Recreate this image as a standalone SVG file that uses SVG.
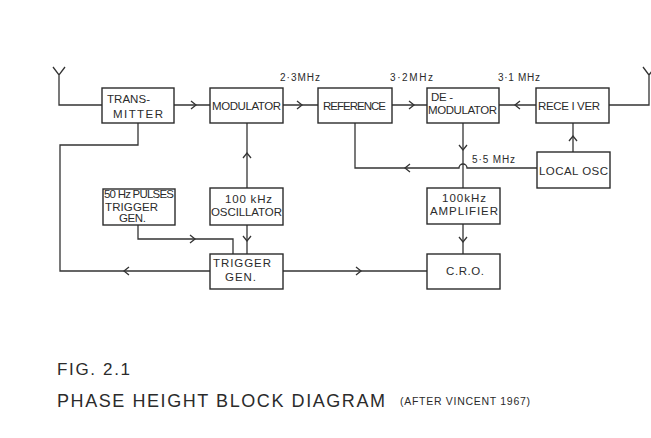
<svg xmlns="http://www.w3.org/2000/svg" xmlns:xlink="http://www.w3.org/1999/xlink" width="651" height="438" viewBox="0 0 651 438">
<style>
.box{fill:none;stroke:#2b2b2b;stroke-width:1.4}
.ln{fill:none;stroke:#333;stroke-width:1.3}
.t{font-family:"Liberation Sans",Arial,sans-serif;fill:#2b2b2b;font-size:11.5px}
.lbl{font-family:"Liberation Sans",Arial,sans-serif;fill:#2b2b2b;font-size:10px}
.cap{font-family:"Liberation Sans",Arial,sans-serif;fill:#2b2b2b}
</style>
<defs>
<path id="chev" d="M-3,-4 L2,0 L-3,4" fill="none" stroke="#333" stroke-width="1.3"/>
</defs>
<rect width="651" height="438" fill="#fff"/>

<g id="connectors">
<path class="ln" d="M53,67 L59,75 L65,67 M59,75 V105 H102"/>
<path class="ln" d="M174,105 H210"/><use xlink:href="#chev" transform="translate(194,105)"/>
<path class="ln" d="M283,105 H318"/><use xlink:href="#chev" transform="translate(300,105)"/>
<path class="ln" d="M392,105 H427"/><use xlink:href="#chev" transform="translate(412,105)"/>
<path class="ln" d="M536,105 H499"/><use xlink:href="#chev" transform="translate(517,105) rotate(180)"/>
<path class="ln" d="M609,105 H649 V75 L643,67 M649,75 L655,67"/>
<path class="ln" d="M573,152 V123"/><use xlink:href="#chev" transform="translate(573,138) rotate(-90)"/>
<path class="ln" d="M537,168 H467 A4,4 0 0 0 459,168 H355 V123"/><use xlink:href="#chev" transform="translate(407,168) rotate(180)"/>
<path class="ln" d="M463,123 V188"/><use xlink:href="#chev" transform="translate(463,148) rotate(90)"/>
<path class="ln" d="M463,224 V254"/><use xlink:href="#chev" transform="translate(463,240) rotate(90)"/>
<path class="ln" d="M283,271 H427"/><use xlink:href="#chev" transform="translate(359,271)"/>
<path class="ln" d="M210,271 H60 V145 H138 V123"/><use xlink:href="#chev" transform="translate(126,271) rotate(180)"/>
<path class="ln" d="M247,188 V123"/><use xlink:href="#chev" transform="translate(247,155) rotate(-90)"/>
<path class="ln" d="M247,225 V254"/><use xlink:href="#chev" transform="translate(247,239) rotate(90)"/>
<path class="ln" d="M138,225 V239 H233 V254"/><use xlink:href="#chev" transform="translate(193,239)"/>
<text class="lbl" x="280" y="81" textLength="40">2·3MHz</text>
<text class="lbl" x="390" y="81" textLength="43">3·2MHz</text>
<text class="lbl" x="498" y="81" textLength="42">3·1 MHz</text>
<text class="lbl" x="472" y="163" textLength="43">5·5 MHz</text>
</g>

<g id="transmitter">
<rect class="box" x="102" y="88" width="72" height="35"/>
<text class="t" x="107" y="103" textLength="43">TRANS-</text>
<text class="t" x="113" y="118" textLength="50">MITTER</text>
</g>
<g id="modulator">
<rect class="box" x="210" y="88" width="73" height="35"/>
<text class="t" x="212" y="110" textLength="69">MODULATOR</text>
</g>
<g id="reference">
<rect class="box" x="318" y="88" width="74" height="35"/>
<text class="t" x="323" y="110" textLength="63">REFERENCE</text>
</g>
<g id="demodulator">
<rect class="box" x="427" y="88" width="72" height="35"/>
<text class="t" x="431" y="101" textLength="22">DE -</text>
<text class="t" x="428" y="114" textLength="69">MODULATOR</text>
</g>
<g id="receiver">
<rect class="box" x="536" y="88" width="73" height="35"/>
<text class="t" x="538" y="110" textLength="62">RECE I VER</text>
</g>
<g id="local-osc">
<rect class="box" x="537" y="152" width="73" height="36"/>
<text class="t" x="539" y="175" font-size="12.5" textLength="69">LOCAL OSC</text>
</g>
<g id="pulses-trigger-gen">
<rect class="box" x="103" y="189" width="72" height="36"/>
<text class="t" x="104" y="198" font-size="9.5" textLength="70">50 Hz PULSES</text>
<text class="t" x="105" y="210.5" font-size="10.5" textLength="53">TRIGGER</text>
<text class="t" x="119" y="222" font-size="10.5" textLength="27">GEN.</text>
</g>
<g id="oscillator">
<rect class="box" x="210" y="188" width="73" height="37"/>
<text class="t" x="225" y="203" textLength="47">100 kHz</text>
<text class="t" x="211" y="216" textLength="71">OSCILLATOR</text>
</g>
<g id="amplifier">
<rect class="box" x="427" y="188" width="73" height="36"/>
<text class="t" x="442" y="202" textLength="44">100kHz</text>
<text class="t" x="430" y="215" textLength="68">AMPLIFIER</text>
</g>
<g id="trigger-gen">
<rect class="box" x="210" y="254" width="73" height="35"/>
<text class="t" x="213" y="267" textLength="58">TRIGGER</text>
<text class="t" x="225" y="281" textLength="31">GEN.</text>
</g>
<g id="cro">
<rect class="box" x="427" y="254" width="73" height="35"/>
<text class="t" x="446" y="275" textLength="38">C.R.O.</text>
</g>

<g id="caption">
<text class="cap" x="57" y="375" font-size="17" textLength="73">FIG. 2.1</text>
<text class="cap" x="57" y="407" font-size="18" textLength="328">PHASE HEIGHT BLOCK DIAGRAM</text>
<text class="cap" x="400" y="405" font-size="10.5" textLength="130">(AFTER VINCENT 1967)</text>
</g>
</svg>
